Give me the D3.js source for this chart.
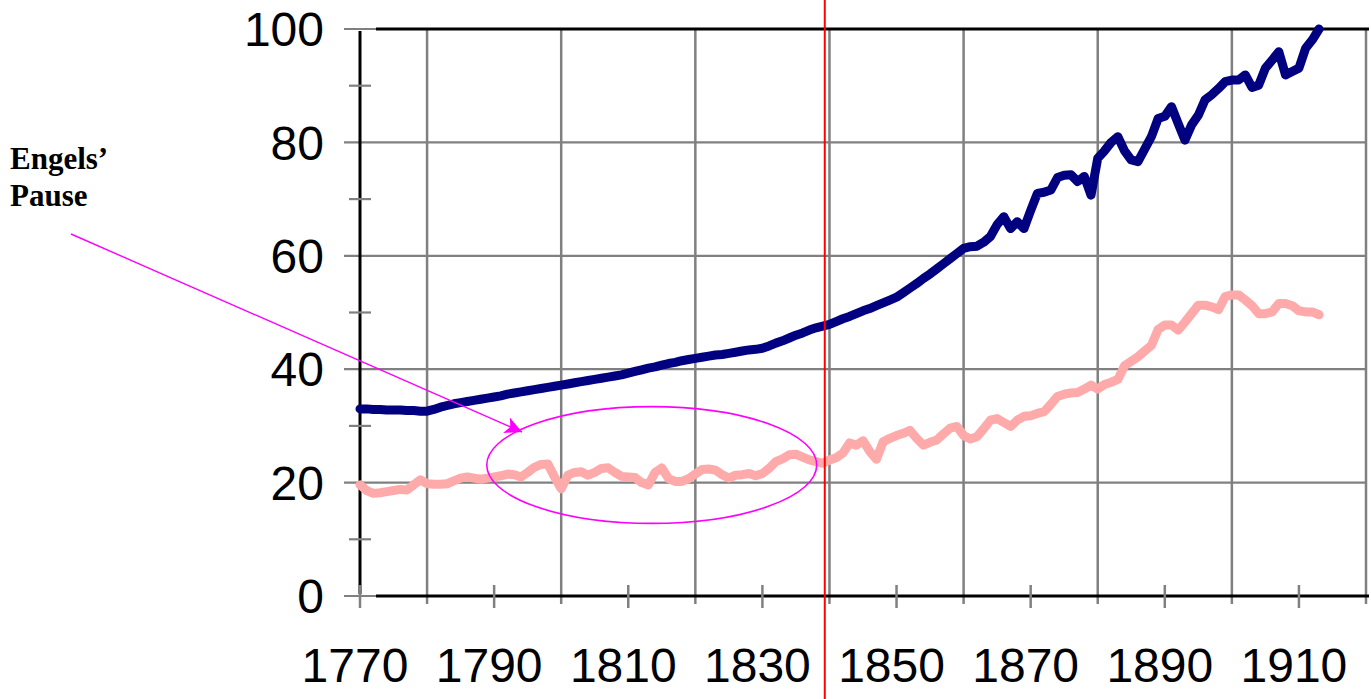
<!DOCTYPE html>
<html lang="en">
<head>
  <title>Engels' Pause</title>
  <meta http-equiv="content-type" content="text/html; charset=utf-8" />
<style>
body {
	margin:0px;
	background:#fff;
}
.ylab, .xlab {
	font-family: 'Liberation Sans', Arial, sans-serif;
	font-size:48px;
	fill:#000;
}
.note {
	font-family: 'Liberation Serif', 'Times New Roman', serif;
	font-size:31px;
	font-weight:bold;
	fill:#000;
}
</style>
</head>
<body>
<svg width="1371" height="699"></svg>

<script src="https://cdn.jsdelivr.net/npm/d3@7/dist/d3.min.js"></script>
<script>

var firstYear = 1770;

// output per worker (blue), 1770-1913, index 1913=100
var output = [
  33.0,33.0,32.9,32.9,32.8,32.8,32.8,32.7,32.7,32.6,
  32.6,32.9,33.3,33.6,33.9,34.1,34.3,34.5,34.7,34.9,
  35.1,35.3,35.6,35.8,36.0,36.2,36.4,36.6,36.8,37.0,
  37.2,37.4,37.6,37.8,38.0,38.2,38.4,38.6,38.8,39.0,
  39.3,39.6,39.9,40.2,40.4,40.7,41.0,41.2,41.5,41.7,
  41.9,42.1,42.3,42.5,42.6,42.8,43.0,43.2,43.4,43.5,
  43.7,44.1,44.6,45.0,45.5,46.0,46.4,46.9,47.3,47.6,
  47.9,48.4,48.9,49.3,49.8,50.3,50.7,51.2,51.7,52.2,
  52.7,53.5,54.3,55.1,56.0,56.8,57.7,58.6,59.5,60.4,
  61.3,61.6,61.7,62.4,63.4,65.5,66.9,64.8,66.0,64.8,
  68.0,71.0,71.2,71.6,73.8,74.2,74.3,73.1,74.0,70.7,
  77.2,78.5,80.0,81.0,78.5,76.9,76.6,78.8,81.0,84.2,
  84.6,86.3,83.3,80.4,83.1,84.8,87.5,88.4,89.5,90.7,
  91.0,91.0,91.9,89.7,90.1,93.1,94.5,96.0,91.9,92.5,
  93.1,96.6,98.1,100.0
];

// real wages (pink), 1770-1913
var wages = [
  19.6,18.6,18.1,18.2,18.4,18.6,18.8,18.7,19.6,20.5,
  19.8,19.7,19.7,19.8,20.3,20.8,21.0,20.8,20.6,20.8,
  21.0,21.2,21.5,21.4,21.0,21.8,22.7,23.2,23.3,21.0,
  18.9,21.3,21.8,21.9,21.3,21.8,22.5,22.6,21.8,21.1,
  21.0,20.9,20.0,19.6,21.8,22.6,20.7,20.2,20.2,20.7,
  21.5,22.3,22.4,22.2,21.4,20.8,21.3,21.4,21.6,21.2,
  21.6,22.5,23.7,24.2,24.9,25.0,24.5,24.0,23.7,23.4,
  24.0,24.4,25.2,27.0,26.6,27.4,25.5,24.1,27.2,27.8,
  28.3,28.7,29.2,27.8,26.6,27.1,27.5,28.6,29.6,29.9,
  28.3,27.7,28.1,29.5,31.0,31.3,30.6,29.9,31.0,31.7,
  31.8,32.2,32.5,33.8,35.2,35.6,35.8,35.9,36.5,37.2,
  36.5,37.3,37.7,38.2,40.6,41.4,42.2,43.2,44.2,47.0,
  47.8,47.8,46.9,48.3,49.8,51.3,51.3,51.0,50.5,52.8,
  53.1,53.1,52.2,51.2,49.8,49.8,50.1,51.6,51.6,51.2,
  50.3,50.1,50.1,49.6
];

var xLabels = [1770,1790,1810,1830,1850,1870,1890,1910];
var xGrid = [1780,1800,1820,1840,1860,1880,1900,1920];
var yLabels = [0,20,40,60,80,100];
var yMinor = [10,30,50,70,90];

var markerYear = 1839.3;
var pause = {year:1813.5, value:23.1, years:24.6, units:10.3};
var noteLines = ["Engels\u2019", "Pause"];

var svg = d3.select("svg");

var x = d3.scaleLinear().domain([1770,1920]).range([360,1366]);
var y = d3.scaleLinear().domain([0,100]).range([596,29]);

var grey = "#808080";

// vertical gridlines
svg.append("g").selectAll("line").data(xGrid).enter().append("line")
	.attr("x1", function(d){ return x(d); }).attr("x2", function(d){ return x(d); })
	.attr("y1", y(100)).attr("y2", y(0)+8)
	.attr("stroke", grey).attr("stroke-width", 2.5);

// horizontal gridlines
svg.append("g").selectAll("line").data(yLabels).enter().append("line")
	.attr("x1", x(1770)-16).attr("x2", x(1920))
	.attr("y1", function(d){ return y(d); }).attr("y2", function(d){ return y(d); })
	.attr("stroke", grey).attr("stroke-width", 2.2);

// axis lines
svg.append("line").attr("x1", x(1770)+16).attr("x2", 1369).attr("y1", y(100)).attr("y2", y(100))
	.attr("stroke", "#000").attr("stroke-width", 3);
svg.append("line").attr("x1", x(1770)+16).attr("x2", 1369).attr("y1", y(0)).attr("y2", y(0))
	.attr("stroke", "#000").attr("stroke-width", 3);
svg.append("line").attr("x1", x(1770)).attr("x2", x(1770)).attr("y1", y(100)+2).attr("y2", y(0)-2)
	.attr("stroke", "#000").attr("stroke-width", 3);

// minor ticks
svg.append("g").selectAll("line").data(yMinor).enter().append("line")
	.attr("x1", x(1770)-11).attr("x2", x(1770)+11)
	.attr("y1", function(d){ return y(d); }).attr("y2", function(d){ return y(d); })
	.attr("stroke", grey).attr("stroke-width", 2.2);
svg.append("g").selectAll("line").data(xLabels).enter().append("line")
	.attr("x1", function(d){ return x(d); }).attr("x2", function(d){ return x(d); })
	.attr("y1", y(0)-11).attr("y2", y(0)+12)
	.attr("stroke", grey).attr("stroke-width", 2.5);

// labels
svg.append("g").selectAll("text").data(yLabels).enter().append("text")
	.attr("class", "ylab")
	.attr("x", 324)
	.attr("y", function(d){ return y(d); })
	.attr("dy", "0.36em")
	.attr("text-anchor", "end")
	.text(function(d){ return d; });

svg.append("g").selectAll("text").data(xLabels).enter().append("text")
	.attr("class", "xlab")
	.attr("x", function(d){ return x(d) - 5; })
	.attr("y", 682)
	.attr("text-anchor", "middle")
	.text(function(d){ return d; });

// series
var line = d3.line()
	.x(function(d, i){ return x(firstYear + i); })
	.y(function(d){ return y(d); });

svg.append("path").datum(wages)
	.attr("d", line)
	.attr("fill", "none").attr("stroke", "#ffaaaa").attr("stroke-width", 9)
	.attr("stroke-linejoin", "round").attr("stroke-linecap", "round");

svg.append("path").datum(output)
	.attr("d", line)
	.attr("fill", "none").attr("stroke", "#000080").attr("stroke-width", 9)
	.attr("stroke-linejoin", "round").attr("stroke-linecap", "round");

// Engels' pause annotation
svg.append("ellipse")
	.attr("cx", x(pause.year)).attr("cy", y(pause.value))
	.attr("rx", x(pause.year + pause.years) - x(pause.year))
	.attr("ry", y(0) - y(pause.units))
	.attr("fill", "none").attr("stroke", "#ff00ff").attr("stroke-width", 1.6);

svg.append("defs").append("marker")
	.attr("id", "head")
	.attr("viewBox", "0 0 10 10")
	.attr("refX", 10).attr("refY", 5)
	.attr("markerWidth", 22).attr("markerHeight", 17)
	.attr("markerUnits", "userSpaceOnUse")
	.attr("orient", "auto")
	.append("path").attr("d", "M0,0L10,5L0,10L2.5,5Z").attr("fill", "#ff00ff");

svg.append("line")
	.attr("x1", 71).attr("y1", 234).attr("x2", 522).attr("y2", 432)
	.attr("stroke", "#ff00ff").attr("stroke-width", 1.4)
	.attr("marker-end", "url(#head)");

svg.append("g").selectAll("text").data(noteLines).enter().append("text")
	.attr("class", "note")
	.attr("x", 10)
	.attr("y", function(d, i){ return 169 + i*37; })
	.text(function(d){ return d; });

// vertical marker
svg.append("line")
	.attr("x1", x(markerYear)).attr("x2", x(markerYear))
	.attr("y1", 0).attr("y2", 699)
	.attr("stroke", "#ff0000").attr("stroke-width", 2);

</script>
</body>
</html>
